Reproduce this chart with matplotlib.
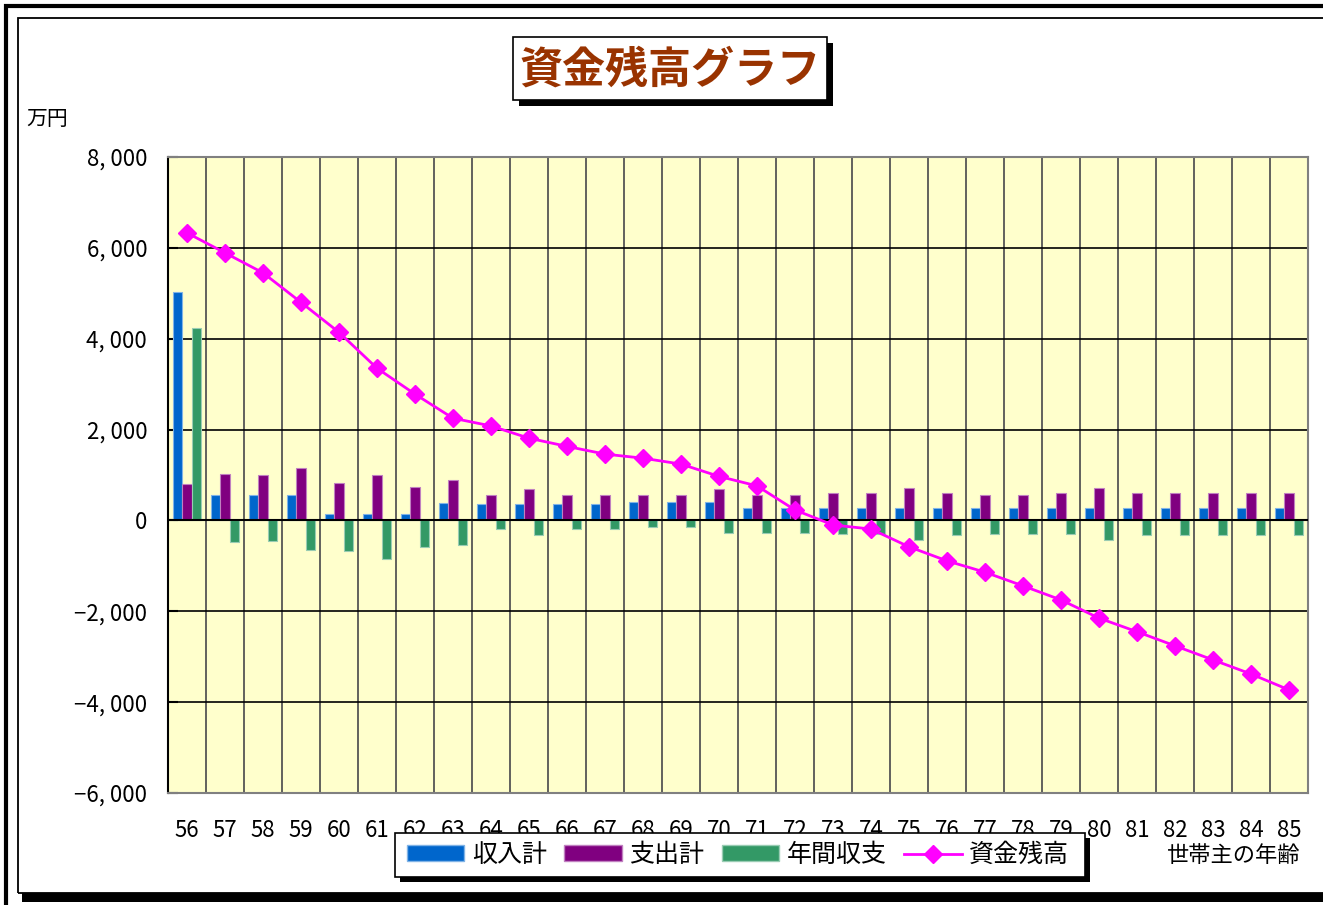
import matplotlib
matplotlib.use("Agg")
import matplotlib.pyplot as plt
import numpy as np
from matplotlib.patches import Rectangle, Patch
from matplotlib.lines import Line2D

plt.rcParams['font.family'] = ['Noto Sans CJK JP', 'DejaVu Sans']

# data (万円)
ages = [str(a) for a in range(56, 86)]
income = [5030, 550, 555, 555, 150, 150, 150, 380, 370, 370, 370, 370, 415, 415, 415,
          280, 280, 280, 280, 280, 280, 280, 280, 280, 280, 280, 280, 280, 280, 280]
expense = [800, 1030, 990, 1160, 820, 990, 730, 900, 550, 690, 550, 550, 550, 550, 690,
           550, 560, 600, 600, 720, 600, 550, 550, 600, 720, 600, 600, 600, 600, 600]
net = [4230, -480, -450, -650, -670, -840, -590, -530, -190, -330, -190, -190, -140, -140, -280,
       -280, -280, -290, -290, -430, -320, -290, -290, -290, -430, -320, -320, -320, -320, -320]
balance = [6330, 5890, 5450, 4800, 4140, 3350, 2780, 2250, 2080, 1810, 1630, 1460, 1370, 1240, 970,
           760, 230, -100, -190, -580, -890, -1140, -1440, -1750, -2150, -2450, -2760, -3070, -3380, -3730]
yticks = [-6000, -4000, -2000, 0, 2000, 4000, 6000, 8000]
series_names = ['収入計', '支出計', '年間収支', '資金残高']

W, H = 1323, 905
fig = plt.figure(figsize=(W / 100, H / 100), dpi=100)


def px(x, y):
    # pixel coords (top-left origin) -> figure fraction
    return x / W, 1 - y / H


def box(x0, y0, x1, y1, **kw):
    fx, fy = px(x0, y1)
    r = Rectangle((fx, fy), (x1 - x0) / W, (y1 - y0) / H, transform=fig.transFigure, **kw)
    fig.add_artist(r)
    return r


# outer frames
box(6, 6, 1340, 920, fill=False, ec='black', lw=3, zorder=-5)
box(22, 893, 1340, 902, fc='black', ec='none', zorder=-4)
box(18, 18, 1340, 893, fill=False, ec='black', lw=1.3, zorder=-3)

ax = fig.add_axes([168 / W, 1 - 793 / H, 1140 / W, 636 / H])
ax.set_facecolor('#FFFFCC')

x = np.arange(len(ages))
w = 0.25
ax.bar(x - w, income, w, color='#0066CC', edgecolor='#80B3E6', lw=0.8, zorder=3)
ax.bar(x, expense, w, color='#800080', edgecolor='#C080C0', lw=0.8, zorder=3)
ax.bar(x + w, net, w, color='#339966', edgecolor='#99CCB3', lw=0.8, zorder=3)
ax.plot(x, balance, color='#FF00FF', lw=2, marker='D', markersize=9, zorder=4)

for b in np.arange(0.5, len(ages) - 1, 1):
    ax.axvline(b, color='#555555', lw=1.3, zorder=1)
for t in yticks:
    ax.axhline(t, color='black', lw=1.2, zorder=1)
ax.axhline(0, color='black', lw=1.5, zorder=3.5)

ax.set_xlim(-0.5, len(ages) - 0.5)
ax.set_ylim(-6000, 8000)
ax.set_yticks(yticks)
ax.set_yticklabels([f"{v:,}".replace(",", ", ").replace("-", "\u2212") for v in yticks])
ax.set_xticks(x)
ax.set_xticklabels(ages)
ax.tick_params(axis='y', direction='in', length=7, width=1.5, pad=15, labelsize=16)
ax.tick_params(axis='x', length=0, pad=19, labelsize=16)
for s in ['top', 'right', 'bottom']:
    ax.spines[s].set_color('#808080')
    ax.spines[s].set_linewidth(1.5)
ax.spines['left'].set_color('black')
ax.spines['left'].set_linewidth(1.5)

# title box
box(519, 43, 833, 106, fc='black', ec='none', zorder=5)
box(513, 37, 827, 100, fc='white', ec='black', lw=1.2, zorder=6)
fig.text(*px(670, 70), '資金残高グラフ', ha='center', va='center', fontsize=31,
         fontweight='bold', color='#993300', zorder=7)

fig.text(*px(26, 119), '万円', ha='left', va='center', fontsize=15)
fig.text(*px(1300, 855), '世帯主の年齢', ha='right', va='center', fontsize=16)

# legend box
box(400, 838, 1090, 882, fc='black', ec='none', zorder=5)
box(395, 833, 1085, 877, fc='white', ec='black', lw=1.2, zorder=6)
handles = [Patch(fc='#0066CC', ec='#80B3E6'), Patch(fc='#800080', ec='#C080C0'),
           Patch(fc='#339966', ec='#99CCB3'),
           Line2D([], [], color='#FF00FF', lw=2, marker='D', markersize=9)]
leg = fig.legend(handles, series_names, loc='center', bbox_to_anchor=px(738, 855), ncol=4,
                 frameon=False, fontsize=18, handlelength=2.3, handleheight=0.6,
                 handletextpad=0.3, columnspacing=0.7)
leg.set_zorder(7)

fig.savefig('out.png', dpi=100)
